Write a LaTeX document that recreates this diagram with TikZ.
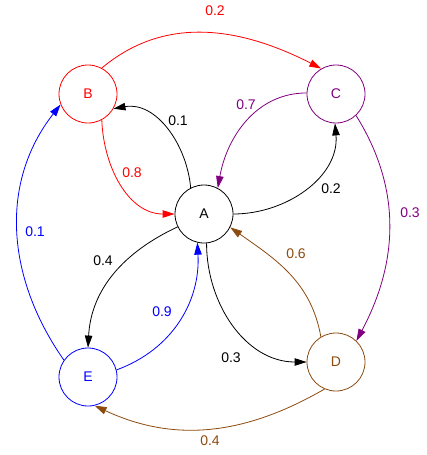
\documentclass[tikz,border=0pt]{standalone}
\usepackage{fontspec}
\setmainfont{Liberation Sans}
\usetikzlibrary{arrows.meta}
\definecolor{cpurple}{RGB}{128,0,128}
\definecolor{cbrown}{RGB}{140,75,15}
\tikzset{
  state/.style={circle,draw,minimum size=58pt,inner sep=0pt,line width=0.8pt,font=\fontsize{14}{16}\selectfont},
  edge/.style={line width=0.8pt,-{Triangle[length=12pt,width=7.5pt]}},
  lab/.style={font=\fontsize{14}{16}\selectfont,inner sep=0pt}
}
\begin{document}
\begin{tikzpicture}[x=1pt,y=-1pt]
\useasboundingbox (0,0) rectangle (427,455);
\node[state] (A) at (204,214) {A};
\node[state,red] (B) at (88,94) {B};
\node[state,cpurple] (C) at (336,94) {C};
\node[state,cbrown] (D) at (336,362) {D};
\node[state,blue] (E) at (88,377) {E};

\draw[edge] (A.117) to[out=95,in=10] (B.-30);
\draw[edge,red] (B.-62) to[out=-88,in=180] (A.180);
\draw[edge,cpurple] (C.178) to[out=180,in=80] (A.62);
\draw[edge] (A.0) to[out=0,in=-85] (C.-92);
\draw[edge,red] (B.62) to[out=40,in=153] (C.120);
\draw[edge,cpurple] (C.-47) to[out=-58,in=62] (D.46);
\draw[edge,cbrown] (D.121) to[out=100,in=-35] (A.-27);
\draw[edge] (A.-85) to[out=-90,in=180] (D.180);
\draw[edge] (A.-154) to[out=205,in=87] (E.90);
\draw[edge,blue] (E.14) to[out=20,in=-87] (A.-103);
\draw[edge,blue] (E.145) to[out=125,in=-128] (B.201);
\draw[edge,cbrown] (D.-113) to[out=-150,in=-25] (E.-77);

\node[lab,red] (l1) at (215,11) {0.2};
\node[lab] (l2) at (178,121) {0.1};
\node[lab,cpurple] (l3) at (246,105) {0.7};
\node[lab,red] (l4) at (132,173) {0.8};
\node[lab] (l5) at (331,189) {0.2};
\node[lab,cpurple] (l6) at (410,213) {0.3};
\node[lab,blue] (l7) at (35,232) {0.1};
\node[lab] (l8) at (103,261) {0.4};
\node[lab,cbrown] (l9) at (296,254) {0.6};
\node[lab,blue] (l10) at (162,312) {0.9};
\node[lab] (l11) at (231,358) {0.3};
\node[lab,cbrown] (l12) at (210,441) {0.4};
\end{tikzpicture}
\end{document}
